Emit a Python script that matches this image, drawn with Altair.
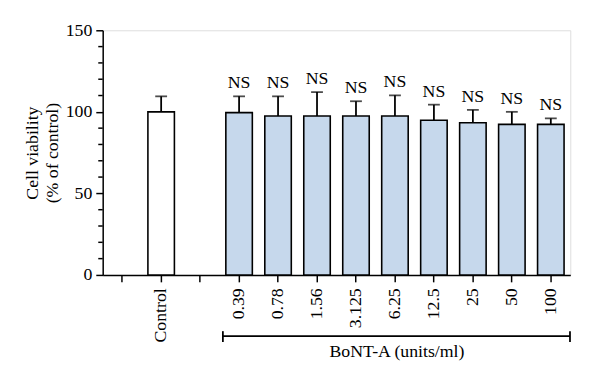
import altair as alt
import pandas as pd

categories = ["gap1", "Control", "gap2", "0.39", "0.78", "1.56", "3.125", "6.25", "12.5", "25", "50", "100"]
bar_groups = ["Control", "0.39", "0.78", "1.56", "3.125", "6.25", "12.5", "25", "50", "100"]
means = [100, 99.5, 97.5, 97.5, 97.5, 97.5, 94.8, 93.3, 92.3, 92.3]
upper = [109.5, 109.5, 109.5, 112.1, 106.5, 110.1, 104.4, 101.2, 100.0, 96.0]
labels = ["", "NS", "NS", "NS", "NS", "NS", "NS", "NS", "NS", "NS"]
fills = ["#ffffff"] + ["#c6d8ec"] * 9
major_ticks = [0, 50, 100, 150]
minor_ticks = [10, 20, 30, 40, 60, 70, 80, 90, 110, 120, 130, 140]

df = pd.DataFrame({"group": bar_groups, "mean": means, "upper": upper,
                   "label": labels, "fill": fills})
minor_df = pd.DataFrame({"v": minor_ticks})

FONT = "Liberation Serif"
FS = 18
W, H = 474, 248

xscale = alt.Scale(domain=categories, paddingInner=0.32, paddingOuter=0.16)
yscale = alt.Scale(domain=[0, 150], nice=False)

xaxis = alt.Axis(title=None, labelAngle=-90, labelExpr="indexof(datum.value,'gap')===0 ? '' : datum.value",
                 labelFont=FONT, labelFontSize=FS, labelColor="#000", tickSize=7, tickColor="#000",
                 tickWidth=1.5, domainColor="#000", domainWidth=1.5, labelPadding=6, labelOverlap=False)
yaxis = alt.Axis(title=["Cell viability", "(% of control)"], values=major_ticks, tickSize=7,
                 labelFont=FONT, labelFontSize=FS, labelColor="#000", titleFont=FONT, titleFontSize=FS,
                 titleFontWeight="normal", titleColor="#000", tickColor="#000", tickWidth=1.5,
                 domainColor="#000", domainWidth=1.5, grid=False, labelPadding=4, titlePadding=4,
                 titleLineHeight=20, labelOverlap=False)

base = alt.Chart(df)

bars = base.mark_bar(stroke="#000", strokeWidth=1.6).encode(
    x=alt.X("group:N", scale=xscale, axis=xaxis),
    y=alt.Y("mean:Q", scale=yscale, axis=yaxis),
    fill=alt.Fill("fill:N", scale=None),
)

minor = alt.Chart(minor_df).mark_rule(color="#000", strokeWidth=1.5).encode(
    y=alt.Y("v:Q", scale=yscale), x=alt.value(-4.5), x2=alt.value(0))

err = base.mark_rule(color="#000", strokeWidth=1.8).encode(
    x=alt.X("group:N", scale=xscale), y="mean:Q", y2="upper:Q")

caps = base.mark_tick(color="#000", thickness=1.8, size=12, orient="horizontal").encode(
    x=alt.X("group:N", scale=xscale), y="upper:Q")

ns = base.mark_text(font=FONT, fontSize=FS, baseline="bottom", dy=-4, color="#000").encode(
    x=alt.X("group:N", scale=xscale), y="upper:Q", text="label:N")

bracket_df = pd.DataFrame({"start": ["0.39"], "end": ["100"], "mid": ["6.25"],
                           "title": ["BoNT-A (units/ml)"]})
bb = alt.Chart(bracket_df)
bracket = bb.mark_rule(color="#000", strokeWidth=1.8, xOffset=-3, x2Offset=6).encode(
    x=alt.X("start:N", scale=xscale, bandPosition=0),
    x2=alt.X2("end:N", bandPosition=1),
    y=alt.value(H + 62))
cap_l = bb.mark_rule(color="#000", strokeWidth=1.8, xOffset=-3).encode(
    x=alt.X("start:N", scale=xscale, bandPosition=0), y=alt.value(H + 57), y2=alt.value(H + 68))
cap_r = bb.mark_rule(color="#000", strokeWidth=1.8, xOffset=6).encode(
    x=alt.X("end:N", scale=xscale, bandPosition=1), y=alt.value(H + 57), y2=alt.value(H + 68))
title = bb.mark_text(font=FONT, fontSize=FS, baseline="middle", color="#000", dx=2).encode(
    x=alt.X("mid:N", scale=xscale, bandPosition=0.5), y=alt.value(H + 78), text="title:N")

chart = alt.layer(bars, minor, err, caps, ns, bracket, cap_l, cap_r, title).properties(
    width=W, height=H,
    autosize=alt.AutoSizeParams(type="none"),
    padding={"left": 96, "top": 20, "right": 22, "bottom": 111},
).configure_view(stroke=None).configure(background="#ffffff")

chart.save("out.html", embed_options={"renderer": "svg", "actions": False})
